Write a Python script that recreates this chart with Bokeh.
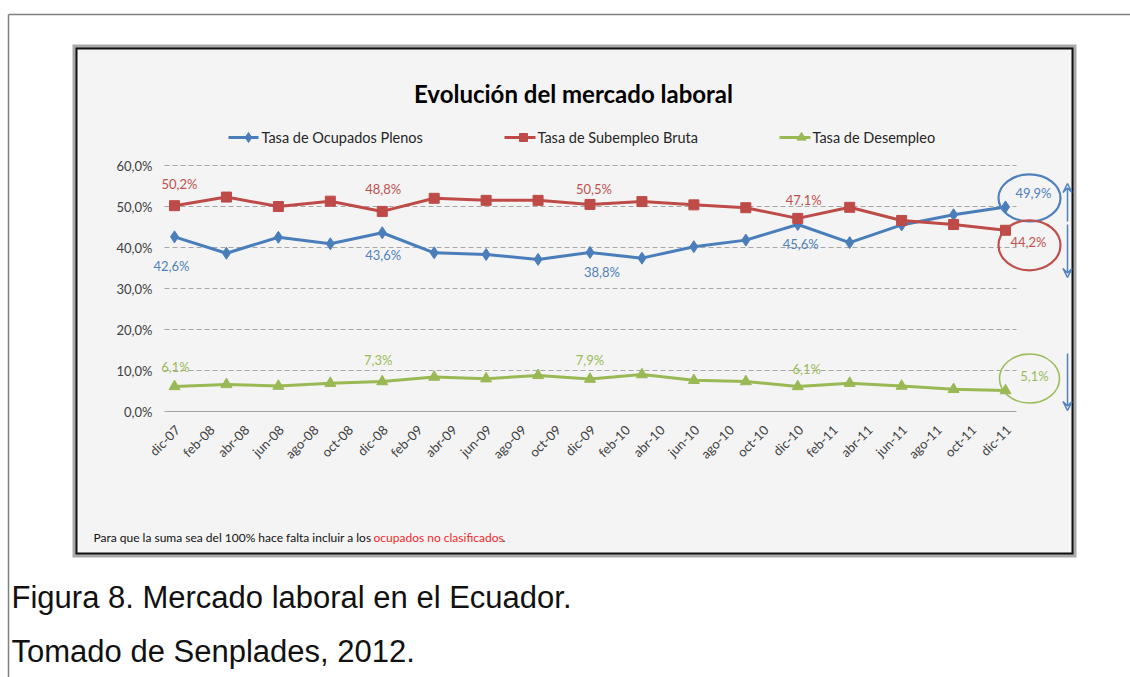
import math
from bokeh.plotting import figure
from bokeh.models import Range1d, Arrow, VeeHead
from bokeh.core.properties import value
from bokeh.embed import file_html
from bokeh.resources import INLINE

# ---------------- data ----------------
periods = ["2007-12", "2008-03", "2008-06", "2008-09", "2008-12",
           "2009-03", "2009-06", "2009-09", "2009-12",
           "2010-03", "2010-06", "2010-09", "2010-12",
           "2011-03", "2011-06", "2011-09", "2011-12"]
ocupados_plenos = [42.6, 38.6, 42.5, 40.9, 43.6, 38.7, 38.3, 37.1, 38.8,
                   37.4, 40.2, 41.8, 45.6, 41.2, 45.5, 48.0, 49.9]
subempleo_bruta = [50.2, 52.3, 50.0, 51.3, 48.8, 52.0, 51.5, 51.5, 50.5,
                   51.2, 50.4, 49.7, 47.1, 49.8, 46.6, 45.6, 44.2]
desempleo = [6.1, 6.6, 6.2, 6.9, 7.3, 8.4, 8.0, 8.8, 7.9,
             9.0, 7.6, 7.3, 6.1, 6.9, 6.2, 5.4, 5.1]
series_names = ["Tasa de Ocupados Plenos", "Tasa de Subempleo Bruta", "Tasa de Desempleo"]
x_tick_labels = ["dic-07", "feb-08", "abr-08", "jun-08", "ago-08", "oct-08",
                 "dic-08", "feb-09", "abr-09", "jun-09", "ago-09", "oct-09",
                 "dic-09", "feb-10", "abr-10", "jun-10", "ago-10", "oct-10",
                 "dic-10", "feb-11", "abr-11", "jun-11", "ago-11", "oct-11", "dic-11"]
y_ticks = [0, 10, 20, 30, 40, 50, 60]
labelled_points = [0, 4, 8, 12, 16]
title_text = "Evolución del mercado laboral"
note_black = "Para que la suma sea del 100% hace falta incluir a los"
note_red = "ocupados no clasificados"
caption_1 = "Figura 8. Mercado laboral en el Ecuador."
caption_2 = "Tomado de Senplades, 2012."

# months since dic-07
months = [(int(s[:4]) - 2007) * 12 + int(s[5:]) - 12 for s in periods]
tick_months = [2 * i for i in range(len(x_tick_labels))]

# ---------------- scale (pixel placement of the plot area) ----------------
W, H = 1130, 677
X0, SX = 174.0, 17.3125   # px of month 0, px per month
Y0, SY = 411.0, 4.1       # px of 0 %, px per percentage point


def px_x(px):
    return (px - X0) / SX


def px_y(py):
    return (Y0 - py) / SY


p = figure(width=W, height=H, x_range=Range1d(px_x(0), px_x(W)),
           y_range=Range1d(px_y(H), px_y(0)),
           output_backend="svg", toolbar_location=None,
           x_axis_location=None, y_axis_location=None,
           min_border=0, min_border_left=0, min_border_right=0,
           min_border_top=0, min_border_bottom=0,
           background_fill_color="white", border_fill_color="white",
           outline_line_color=None)
p.xgrid.visible = False
p.ygrid.visible = False

CAL = value("Lato")
ARIAL = value("Liberation Sans")

# page frame lines
p.segment(x0=[px_x(8), px_x(8)], y0=[px_y(14), px_y(14)],
          x1=[px_x(W), px_x(8)], y1=[px_y(14), px_y(H)],
          line_color="#7f7f7f", line_width=1.5)

# chart box
p.quad(left=[px_x(72)], right=[px_x(1076)], top=[px_y(44)], bottom=[px_y(557)],
       fill_color="#a9a9a9", line_color=None)
p.quad(left=[px_x(75)], right=[px_x(1073)], top=[px_y(47)], bottom=[px_y(554)],
       fill_color="#111111", line_color=None)
p.quad(left=[px_x(77)], right=[px_x(1071)], top=[px_y(49)], bottom=[px_y(552)],
       fill_color="#f4f4f4", line_color=None)

# gridlines
gx0 = months[0] - 10 / SX
gx1 = months[-1] + 11 / SX
dashed = [t for t in y_ticks if t != 0]
p.segment(x0=[gx0] * len(dashed), x1=[gx1] * len(dashed), y0=dashed, y1=dashed,
          line_color="#a6a6a6", line_width=1, line_dash="5 3")
p.segment(x0=[gx0], x1=[gx1], y0=[0], y1=[0], line_color="#a6a6a6", line_width=1.2)

# y tick labels
p.text(x=[px_x(152)] * len(y_ticks), y=y_ticks,
       text=[f"{t:.1f}".replace(".", ",") + "%" for t in y_ticks],
       text_font=CAL, text_font_size="13px", text_color="#404040",
       text_align="right", text_baseline="middle")

# x tick labels (rotated)
p.text(x=[m + 3 / SX for m in tick_months], y=[px_y(427)] * len(tick_months),
       text=x_tick_labels, angle=math.pi / 4,
       text_font=CAL, text_font_size="13px", text_color="#404040",
       text_align="right", text_baseline="middle")

# series
series = [
    dict(vals=ocupados_plenos, color="#4a7ebb", tcolor="#4f81bd", marker="diamond", size=12,
         offs=[(-3, 29), (1, 22), (12, 20), (3, 19), (28, -14)]),
    dict(vals=subempleo_bruta, color="#be4b48", tcolor="#c0504d", marker="square", size=10,
         offs=[(5, -22), (1, -22), (4, -15), (6, -18), (23, 12)]),
    dict(vals=desempleo, color="#98b954", tcolor="#9bbb59", marker="triangle", size=11,
         offs=[(1, -19), (-4, -22), (0, -19), (9, -17), (29, -15)]),
]

for s in series:
    p.line(months, s["vals"], line_color=s["color"], line_width=3)
    p.scatter(months, s["vals"], marker=s["marker"], size=s["size"],
              fill_color=s["color"], line_color=s["color"])
    lx = [months[i] + o[0] / SX for i, o in zip(labelled_points, s["offs"])]
    ly = [s["vals"][i] - o[1] / SY for i, o in zip(labelled_points, s["offs"])]
    lt = [f"{s['vals'][i]:.1f}".replace(".", ",") + "%" for i in labelled_points]
    p.text(x=lx, y=ly, text=lt, text_font=CAL, text_font_size="13px",
           text_color=s["tcolor"], text_align="center", text_baseline="middle")

# highlight ellipses around last values
ell = [(ocupados_plenos[-1], 24, -9, 62, 47, "#4f81bd", 2.2),
       (subempleo_bruta[-1], 24, 15, 62, 50, "#c0504d", 2.2),
       (desempleo[-1], 24, -12, 60, 49, "#9bbb59", 1.5)]
for v, dx, dy, w, h, c, lw in ell:
    p.ellipse(x=[months[-1] + dx / SX], y=[v - dy / SY], width=[w], height=[h],
              width_units="screen", height_units="screen",
              fill_color=None, line_color=c, line_width=lw)

# arrows
ax = px_x(1067)
for (y_start, y_end) in [(221, 183), (224, 277), (353, 410)]:
    p.add_layout(Arrow(end=VeeHead(size=9, line_color="#4f81bd", line_width=1.5, fill_color=None),
                       x_start=ax, y_start=px_y(y_start), x_end=ax, y_end=px_y(y_end),
                       line_color="#4f81bd", line_width=1.5))

# title
p.text(x=[px_x(573)], y=[px_y(93)], text=[title_text], text_font=CAL,
       text_font_size="24px", text_font_style="bold", text_color="#000000",
       text_align="center", text_baseline="middle")

# legend
leg = [(228, 258, 248, 261, "diamond", 10), (504, 535, 523, 537, "square", 8),
       (779, 810, 801, 812, "triangle", 9)]
for (a, b, mk, tx, mshape, msz), s, name in zip(leg, series, series_names):
    p.segment(x0=[px_x(a)], x1=[px_x(b)], y0=[px_y(137)], y1=[px_y(137)],
              line_color=s["color"], line_width=3)
    p.scatter([px_x(mk)], [px_y(137)], marker=mshape, size=msz,
              fill_color=s["color"], line_color=s["color"])
    p.text(x=[px_x(tx)], y=[px_y(137)], text=[name], text_font=CAL,
           text_font_size="14.5px", text_color="#262626",
           text_align="left", text_baseline="middle")

# footnote
p.text(x=[px_x(93)], y=[px_y(537)], text=[note_black], text_font=CAL,
       text_font_size="12px", text_color="#111111", text_align="left", text_baseline="middle")
p.text(x=[px_x(373)], y=[px_y(537)], text=[note_red], text_font=CAL,
       text_font_size="12px", text_color="#f0282d", text_align="left", text_baseline="middle")
p.text(x=[px_x(502)], y=[px_y(537)], text=["."], text_font=CAL,
       text_font_size="12px", text_color="#111111", text_align="left", text_baseline="middle")

# captions
p.text(x=[px_x(11), px_x(11)], y=[px_y(597), px_y(651)], text=[caption_1, caption_2],
       text_font=ARIAL, text_font_size="31px", text_color="#111111",
       text_align="left", text_baseline="middle")

open("out.html", "w").write(file_html(p, INLINE))
